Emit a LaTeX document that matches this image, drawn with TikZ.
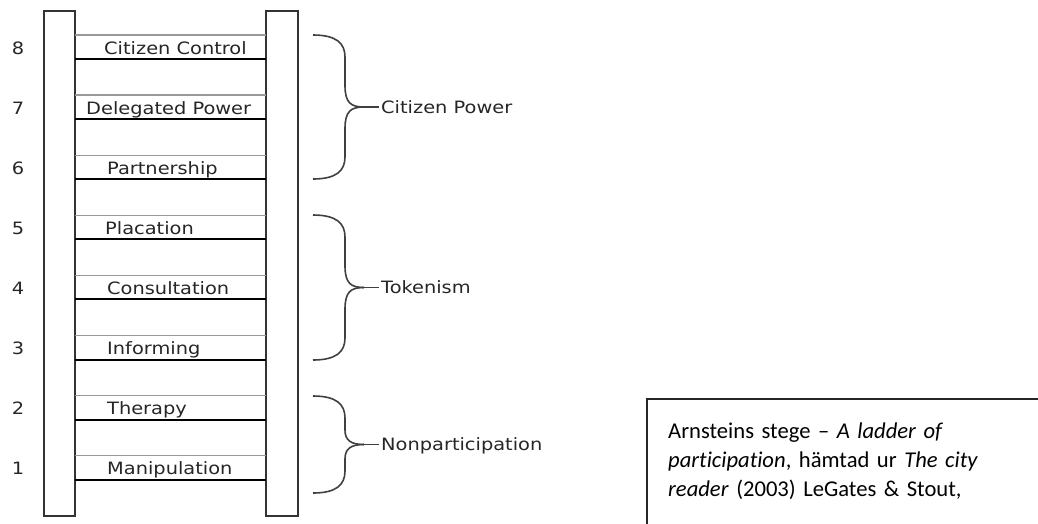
\documentclass[tikz,border=0pt]{standalone}
\usepackage{fontspec}
\usepackage{tikz}
\usetikzlibrary{positioning,calc}
\newfontfamily\ladderfont{DejaVu Sans}[FakeStretch=1.14]
\newfontfamily\notefont{Carlito}[Ligatures=NoCommon]

\tikzset{
    rail/.style={draw=black!80, line width=1.8pt},
    rungtop/.style={draw=black!40, line width=1.4pt},
    rungbot/.style={draw=black, line width=2pt},
    rungtext/.style={anchor=base west, inner sep=0pt, text=black!85, font=\ladderfont\fontsize{17}{20}\selectfont},
    bracket/.style={draw=black!75, line width=1.6pt},
    grouptext/.style={anchor=west, inner sep=2pt, text height=12.4pt, text depth=0pt, text=black!85, font=\ladderfont\fontsize{17}{20}\selectfont},
    notebox/.style={anchor=north west, align=left, text width=340pt, inner xsep=21pt, inner ysep=18.7pt, font=\notefont\fontsize{22.6}{29}\selectfont},
    boxline/.style={draw=black!85, line width=1.6pt}
}

\begin{document}
\begin{tikzpicture}[x=1pt, y=-1pt]
    \useasboundingbox (0,0) rectangle (1038,523);

    % Draw the two rails
    \draw [rail] (44,11) rectangle (75,516);
    \draw [rail] (266,11) rectangle (298,516);

    % Rungs, 8 at the top down to 1
    \foreach \i/\x/\rung in {8/104/Citizen Control, 7/86/Delegated Power, 6/107/Partnership, 5/105/Placation, 4/107/Consultation, 3/107/Informing, 2/107/Therapy, 1/107/Manipulation} {
        \pgfmathsetmacro{\ytop}{35+(8-\i)*60.1}
        \pgfmathsetmacro{\ybot}{\ytop+24}
        \draw [rungtop] (75,\ytop) -- (266,\ytop);
        \draw [rungbot] (75,\ybot) -- (266,\ybot);
        \node [rungtext] (rung\i) at (\x,\ybot-5) {\rung};
        \node [rungtext, anchor=base] (num\i) at (18,\ybot-5) {\i};
    }

    % Braces for the three groups
    \foreach \ya/\yb/\grp/\name in {35/179/Citizen Power/power, 215/360/Tokenism/token, 396/493/Nonparticipation/nonpart} {
        \pgfmathsetmacro{\ym}{(\ya+\yb)/2}
        \pgfmathsetmacro{\c}{0.15*(\yb-\ya)}
        \node [grouptext] (\name) at (379,\ym) {\grp};
        \coordinate (\name tip) at (364,\ym);
        \draw [bracket] (313,\ya) .. controls (336,\ya) and (345,\ya+8) .. (345,\ya+22)
            -- (345,\ym-\c) .. controls (345,\ym-4) and (351,\ym) .. (\name tip);
        \draw [bracket] (313,\yb) .. controls (336,\yb) and (345,\yb-8) .. (345,\yb-22)
            -- (345,\ym+\c) .. controls (345,\ym+4) and (351,\ym) .. (\name tip);
        \draw [bracket] (\name tip) -- (\name);
    }

    % Caption box, cut off by the page edge
    \node [notebox] (note) at (647,399) {\strut Arnsteins stege – \textit{A ladder of}\\ \textit{participation}, hämtad ur \textit{The city}\\ \textit{reader} (2003) LeGates \& Stout,};
    \coordinate (boxright) at (1042,399);
    \coordinate (boxfoot) at (647,527);
    \draw [boxline] (boxright) -- (note.north west) -- (boxfoot);
\end{tikzpicture}
\end{document}
